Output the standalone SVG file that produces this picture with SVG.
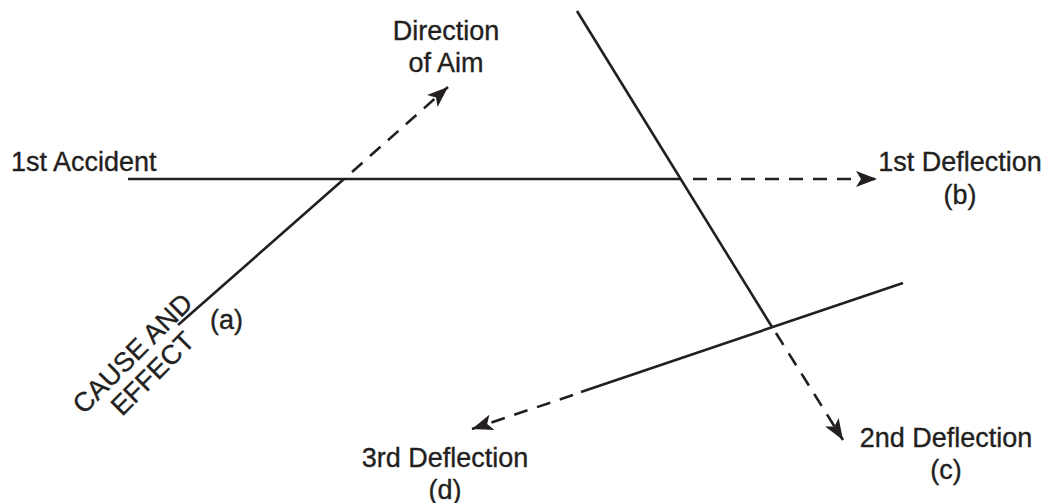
<svg xmlns="http://www.w3.org/2000/svg" width="1045" height="503" viewBox="0 0 1045 503">
<style>
.t{font-family:"Liberation Sans",Arial,sans-serif;font-size:27px;fill:#231f20;stroke:#231f20;stroke-width:0.35}
.m{text-anchor:middle}
.s{stroke:#231f20;stroke-width:2.6;fill:none}
.d{stroke:#231f20;stroke-width:2.6;fill:none;stroke-dasharray:14 10}
</style>
<defs>
<marker id="ah" markerUnits="userSpaceOnUse" markerWidth="24" markerHeight="18" refX="21" refY="9" orient="auto">
<path d="M0,1 L21,9 L0,17 L5,9 z" fill="#231f20"/>
</marker>
</defs>
<g id="connectors">
<line class="s" x1="128" y1="179" x2="681" y2="179"/>
<line class="d" x1="693" y1="179" x2="877" y2="179" marker-end="url(#ah)"/>
<line class="s" x1="178" y1="325" x2="344" y2="179"/>
<line class="d" x1="352" y1="172" x2="448" y2="87" marker-end="url(#ah)"/>
<line class="s" x1="577" y1="11" x2="772" y2="327"/>
<line class="d" x1="776" y1="333" x2="843" y2="440" marker-end="url(#ah)"/>
<line class="s" x1="903" y1="283" x2="581" y2="392"/>
<line class="d" x1="573" y1="395" x2="472" y2="429" marker-end="url(#ah)"/>
</g>
<g id="n-accident"><text class="t" x="11" y="171">1st Accident</text></g>
<g id="n-aim"><text class="t m" x="446" y="40">Direction</text><text class="t m" x="446" y="72">of Aim</text></g>
<g id="n-b"><text class="t m" x="960" y="171">1st Deflection</text><text class="t m" x="960" y="204">(b)</text></g>
<g id="n-a"><text class="t" x="210" y="329">(a)</text></g>
<g id="n-cause"><text class="t m" transform="translate(139,360) rotate(-45)">CAUSE AND</text><text class="t m" transform="translate(159,380) rotate(-45)">EFFECT</text></g>
<g id="n-c"><text class="t m" x="946" y="447">2nd Deflection</text><text class="t m" x="946" y="479">(c)</text></g>
<g id="n-d"><text class="t m" x="445" y="467">3rd Deflection</text><text class="t m" x="445" y="499">(d)</text></g>
</svg>
